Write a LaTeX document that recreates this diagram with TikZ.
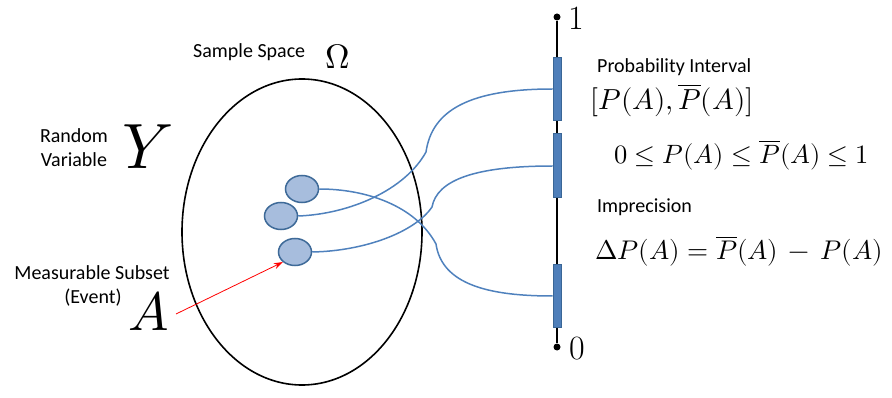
\documentclass[tikz,border=0pt]{standalone}
\usepackage{fontspec}
\usepackage{unicode-math}
\setmathfont{Latin Modern Math}
\setsansfont{Carlito}
\usetikzlibrary{arrows.meta,shapes.geometric}
\definecolor{linkblue}{HTML}{4F81BD}
\definecolor{ballfill}{HTML}{A7BDDD}
\definecolor{balledge}{HTML}{3E6A98}
\definecolor{barfill}{HTML}{4F7FBA}
\definecolor{baredge}{HTML}{3A6696}
\tikzset{
  x=1pt, y=-1pt,
  ball/.style={ellipse, draw=balledge, fill=ballfill, line width=1.5pt, minimum width=33pt, minimum height=27pt, inner sep=0pt},
  bar/.style={rectangle, draw=baredge, fill=barfill, line width=0.8pt, minimum width=8pt, inner sep=0pt},
  link/.style={draw=linkblue, line width=1.5pt},
  lbl/.style={font=\sffamily\fontsize{20}{24}\selectfont, inner sep=0pt, align=center},
  endpt/.style={circle, fill=black, minimum size=7pt, inner sep=0pt},
}
\begin{document}
\begin{tikzpicture}
\useasboundingbox (0,0) rectangle (892,398);
% sample space
\node[ellipse, draw=black, line width=1.6pt, minimum width=240pt, minimum height=306pt, inner sep=0pt] (omega) at (302,232) {};
% balls
\node[ball] (b1) at (302,189) {};
\node[ball] (b2) at (281,216) {};
\node[ball] (b3) at (295,252) {};
% axis
\node[endpt] (top) at (557,17) {};
\node[endpt] (bot) at (557,347) {};
\draw[line width=1.6pt] (top) -- (bot);
\node[bar, minimum height=63pt] (r1) at (557,89) {};
\node[bar, minimum height=64pt] (r2) at (557,165) {};
\node[bar, minimum height=63pt] (r3) at (557,296) {};
\node[font=\fontsize{34}{36}\selectfont, inner sep=0pt] (one) at (576,18) {1};
\node[font=\fontsize{34}{36}\selectfont, inner sep=0pt] (zero) at (577,349) {0};
% links
\coordinate (k1) at (426,152);
\coordinate (k2) at (432,207);
\coordinate (k3) at (436,244);
\draw[link] (b2.east) .. controls (350,214) and (405,190) .. (k1)
   .. controls (432,110) and (470,89) .. (r1.west |- 0,89);
\draw[link] (b3.east) .. controls (365,251) and (415,232) .. (k2)
   .. controls (437,180) and (475,166) .. (r2.west |- 0,166);
\draw[link] (b1.east) .. controls (365,189) and (415,205) .. (k3)
   .. controls (442,285) and (490,296) .. (r3.west |- 0,296);
% labels
\node[lbl, anchor=west] (ss) at (193,52) {Sample Space};
\node[font=\fontsize{34}{36}\selectfont, inner sep=0pt] (om) at (338,57) {$\Omega$};
\node[lbl] (rv) at (74,148) {Random\\Variable};
\node[font=\fontsize{64}{66}\selectfont, inner sep=0pt] (Y) at (148,147) {$Y$};
\node[lbl] (ms) at (92,273) {Measurable Subset};
\node[lbl] (ev) at (93,298) {(Event)};
\node[font=\fontsize{54}{56}\selectfont, inner sep=0pt] (A) at (149,311) {$A$};
\coordinate (astart) at (176,314);
\draw[red, line width=0.8pt, -{Stealth[length=9pt,width=6pt]}] (astart) -- (b3.south west);
\node[lbl, anchor=west] (pi) at (597,67) {Probability Interval};
\node[font=\fontsize{29}{31}\selectfont, inner sep=0pt, anchor=west] (int) at (590,100) {$[P(A),\overline{P}(A)]$};
\node[font=\fontsize{26.5}{28}\selectfont, inner sep=0pt, anchor=west] (ineq) at (614,155) {$0\le P(A)\le \overline{P}(A)\le 1$};
\node[lbl, anchor=west] (imp) at (597,207) {Imprecision};
\node[font=\fontsize{27}{29}\selectfont, inner sep=0pt, anchor=west] (dp) at (595,251) {$\Delta P(A)=\overline{P}(A)\,-\,P(A)$};
\end{tikzpicture}
\end{document}
